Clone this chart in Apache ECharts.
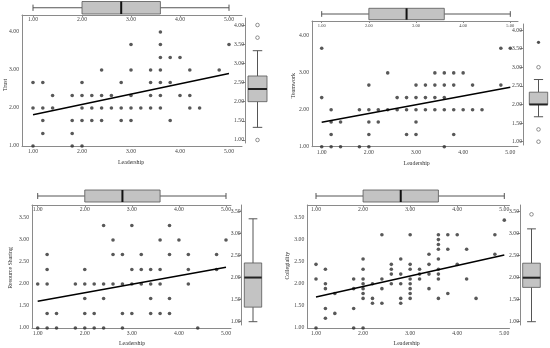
<!DOCTYPE html>
<html><head><meta charset="utf-8">
<script src="https://cdn.jsdelivr.net/npm/echarts@6/dist/echarts.min.js"></script>
<style>html,body{margin:0;padding:0;background:#fff}#c{width:550px;height:348px}</style>
</head><body><div id="c"></div>
<script>
// ---------------- DATA ----------------
const xTicks = [1, 2, 3, 4, 5];
const leadershipBox = [1.00, 2.00, 2.80, 3.60, 5.00]; // min, Q1, median, Q3, max

// Trust
const trustLeadership = [1.0,1.0,1.0, 1.2,1.2,1.2,1.2, 1.4,1.4, 1.8,1.8,1.8,1.8, 2.0,2.0,2.0,2.0,2.0, 2.2,2.2,2.2, 2.4,2.4,2.4,2.4, 2.6,2.6, 2.8,2.8,2.8, 3.0,3.0,3.0,3.0,3.0, 3.2, 3.4,3.4,3.4,3.4, 3.6,3.6,3.6,3.6,3.6,3.6,3.6, 3.8,3.8,3.8, 4.0,4.0, 4.2,4.2,4.2, 4.4, 4.8, 5.0];
const trustValues = [2.67,2.00,1.00, 2.67,2.00,1.67,1.33, 2.33,2.00, 2.33,1.67,1.33,1.00, 2.67,2.33,2.00,1.67,1.00, 2.33,2.00,1.67, 3.00,2.33,2.00,1.67, 2.33,2.00, 2.67,2.00,1.67, 3.67,3.00,2.33,2.00,1.67, 2.00, 3.00,2.67,2.33,2.00, 4.00,3.67,3.33,3.00,2.67,2.33,2.00, 3.33,2.67,1.67, 3.33,2.33, 3.00,2.33,2.00, 2.00, 3.00, 3.67];
const trustFitX = [1.0, 5.0];
const trustFitY = [1.82, 2.91];
const trustBox = [1.33, 2.00, 2.33, 2.67, 3.33];
const trustOutliers = [4.00, 3.67, 1.00];
const trustExtremes = [];
const trustYTicks = [1, 2, 3, 4];
const trustBoxTicks = [1, 1.5, 2, 2.5, 3, 3.5, 4];

// Teamwork
const teamLeadership = [1.0,1.0,1.0, 1.2,1.2,1.2,1.2, 1.4,1.4, 1.8,1.8, 2.0,2.0,2.0,2.0,2.0, 2.2,2.2, 2.4,2.4, 2.6,2.6, 2.8,2.8,2.8, 3.0,3.0,3.0,3.0,3.0, 3.2,3.2,3.2, 3.4,3.4,3.4,3.4, 3.6,3.6,3.6,3.6,3.6, 3.8,3.8,3.8,3.8, 4.0,4.0, 4.2,4.2, 4.4, 4.8,4.8, 5.0];
const teamValues = [3.67,2.33,1.00, 2.00,1.67,1.33,1.00, 1.67,1.00, 2.00,1.00, 2.67,2.00,1.67,1.33,1.00, 2.00,1.67, 3.00,2.00, 2.33,2.00, 2.33,2.00,1.33, 2.67,2.33,2.00,1.67,1.33, 2.67,2.33,2.00, 3.00,2.67,2.33,2.00, 3.00,2.67,2.33,2.00,1.00, 3.00,2.67,2.00,1.33, 3.00,2.00, 2.67,2.00, 2.00, 3.67,2.67, 3.67];
const teamFitX = [1.0, 5.0];
const teamFitY = [1.66, 2.61];
const teamBox = [1.67, 2.00, 2.00, 2.33, 2.67];
const teamOutliers = [3.00, 1.33, 1.00];
const teamExtremes = [3.67];
const teamYTicks = [1, 2, 3, 4];
const teamBoxTicks = [1, 1.5, 2, 2.5, 3, 3.5, 4];

// Resource Sharing
const resLeadership = [1.0,1.0, 1.2,1.2,1.2,1.2,1.2, 1.4,1.4, 1.8,1.8, 2.0,2.0,2.0,2.0,2.0, 2.2,2.2,2.2, 2.4,2.4,2.4,2.4, 2.6,2.6,2.6, 2.8,2.8,2.8,2.8, 3.0,3.0,3.0,3.0, 3.2,3.2,3.2, 3.4,3.4,3.4,3.4, 3.6,3.6,3.6,3.6, 3.8,3.8,3.8,3.8, 4.0, 4.2,4.2,4.2, 4.4, 4.8,4.8, 5.0];
const resValues = [2.00,1.00, 2.67,2.33,2.00,1.33,1.00, 1.33,1.00, 2.00,1.00, 2.33,2.00,1.67,1.33,1.00, 2.00,1.33,1.00, 3.33,2.00,1.67,1.00, 3.00,2.67,2.00, 2.67,2.00,1.33,1.00, 3.33,2.33,2.00,1.33, 2.67,2.33,2.00, 2.33,2.00,1.67,1.33, 3.00,2.33,2.00,1.33, 3.33,2.67,1.67,1.33, 3.00, 2.67,2.33,2.00, 1.00, 2.67,2.33, 3.00];
const resFitX = [1.0, 5.0];
const resFitY = [1.61, 2.38];
const resBox = [1.00, 1.33, 2.00, 2.33, 3.33];
const resOutliers = [];
const resExtremes = [];
const resYTicks = [1, 1.5, 2, 2.5, 3, 3.5];
const resBoxTicks = [1, 1.5, 2, 2.5, 3, 3.5];

// Collegiality
const colLeadership = [1.0,1.0,1.0, 1.2,1.2,1.2,1.2,1.2, 1.4,1.4, 1.8,1.8,1.8,1.8, 2.0,2.0,2.0,2.0,2.0,2.0,2.0,2.0, 2.2,2.2,2.2, 2.4,2.4,2.4,2.4, 2.6,2.6,2.6,2.6, 2.8,2.8,2.8,2.8,2.8, 3.0,3.0,3.0,3.0,3.0,3.0,3.0,3.0, 3.2,3.2,3.2, 3.4,3.4,3.4,3.4, 3.6,3.6,3.6,3.6,3.6,3.6,3.6,3.6,3.6, 3.8,3.8,3.8, 4.0,4.0, 4.2,4.2, 4.4, 4.8,4.8, 5.0];
const colValues = [2.44,2.11,1.00, 2.33,2.00,1.89,1.44,1.22, 1.78,1.33, 2.11,1.89,1.44,1.00, 2.56,2.33,2.11,2.00,1.89,1.78,1.67,1.00, 2.00,1.67,1.56, 3.11,2.11,1.89,1.56, 2.44,2.33,2.22,2.00, 2.56,2.22,2.00,1.67,1.56, 3.11,2.44,2.33,2.11,2.00,1.89,1.78,1.67, 2.33,2.22,2.11, 2.67,2.44,2.22,1.89, 3.11,3.00,2.89,2.78,2.56,2.33,2.22,2.11,1.67, 3.11,2.78,1.78, 3.11,2.44, 2.78,2.11, 1.67, 3.11,2.67, 3.44];
const colFitX = [1.0, 5.0];
const colFitY = [1.70, 2.65];
const colBox = [1.00, 1.78, 2.00, 2.33, 3.11];
const colOutliers = [3.44];
const colExtremes = [];
const colYTicks = [1, 1.5, 2, 2.5, 3, 3.5];
const colBoxTicks = [1, 1.5, 2, 2.5, 3, 3.5];

// ---------------- LAYOUT ----------------
const panels = [
  { name: 'Trust', lx: trustLeadership, ly: trustValues, fx: trustFitX, fy: trustFitY, box: trustBox, out: trustOutliers, ext: trustExtremes, yTicks: trustYTicks, bTicks: trustBoxTicks,
    main: { l: 22, t: 15, r: 242, b: 146, x1: 33, x5: 229, y1: 146, yPer: 38 },
    top: { t: 1, b: 15, boxT: 1.5, boxB: 14, font: 5.7 },
    right: { ax: 245, boxL: 248, boxR: 267, t: 18, b: 143, y1: 140, yPer: 38.33 },
    xt: [131, 162], yt: [5, 85] },
  { name: 'Teamwork', lx: teamLeadership, ly: teamValues, fx: teamFitX, fy: teamFitY, box: teamBox, out: teamOutliers, ext: teamExtremes, yTicks: teamYTicks, bTicks: teamBoxTicks,
    main: { l: 312, t: 21, r: 518, b: 146.7, x1: 321.7, x5: 510.3, y1: 146.7, yPer: 36.9 },
    top: { t: 7, b: 21, boxT: 8.3, boxB: 19.7, font: 4.5 },
    right: { ax: 523, boxL: 529.3, boxR: 547.7, t: 24, b: 145, y1: 141.7, yPer: 37.23 },
    xt: [416.7, 163], yt: [293.3, 85.7] },
  { name: 'Resource Sharing', lx: resLeadership, ly: resValues, fx: resFitX, fy: resFitY, box: resBox, out: resOutliers, ext: resExtremes, yTicks: resYTicks, bTicks: resBoxTicks,
    main: { l: 32, t: 205, r: 231, b: 328, x1: 37.7, x5: 226, y1: 328, yPer: 44 },
    top: { t: 189, b: 205, boxT: 190, boxB: 202, font: 5.7 },
    right: { ax: 241.7, boxL: 244.3, boxR: 261.7, t: 205, b: 325, y1: 321.7, yPer: 44.16 },
    xt: [132, 343], yt: [10, 268] },
  { name: 'Collegiality', lx: colLeadership, ly: colValues, fx: colFitX, fy: colFitY, box: colBox, out: colOutliers, ext: colExtremes, yTicks: colYTicks, bTicks: colBoxTicks,
    main: { l: 307.3, t: 205, r: 509.5, b: 328, x1: 316, x5: 504.3, y1: 328, yPer: 44.2 },
    top: { t: 189, b: 205, boxT: 190, boxB: 202, font: 5.7 },
    right: { ax: 520, boxL: 522.7, boxR: 540.3, t: 205, b: 325, y1: 321.7, yPer: 44 },
    xt: [406.7, 343], yt: [287.3, 265.7] }
];

const FONT = 'Liberation Serif';
const AX = '#8a8a8a';
const LBL = '#444';
const fmt = v => v.toFixed(2);

const grid = [], xAxis = [], yAxis = [], series = [], graphic = [];

panels.forEach((p, i) => {
  const g = i * 3;
  const m = p.main;
  const xp = (m.x5 - m.x1) / 4;
  const xmin = 1 - (m.x1 - m.l) / xp;
  const xmax = 5 + (m.r - m.x5) / xp;
  const ymin = 1 - (m.b - m.y1) / m.yPer;
  const ymax = 1 + (m.y1 - m.t) / m.yPer;

  // main grid
  grid.push({ left: m.l, top: m.t, width: m.r - m.l, height: m.b - m.t });
  xAxis.push({ gridIndex: g, type: 'value', min: xmin, max: xmax,
    axisLine: { show: true, onZero: false, lineStyle: { color: AX, width: 1 } },
    axisTick: { show: false }, splitLine: { show: false },
    axisLabel: { customValues: xTicks, formatter: fmt, fontSize: 5.7, fontFamily: FONT, color: LBL, margin: 3 } });
  yAxis.push({ gridIndex: g, type: 'value', min: ymin, max: ymax,
    axisLine: { show: true, onZero: false, lineStyle: { color: AX, width: 1 } },
    axisTick: { show: false }, splitLine: { show: false },
    axisLabel: { customValues: p.yTicks, formatter: fmt, fontSize: 5.7, fontFamily: FONT, color: LBL, margin: 3 } });

  // top box grid
  const t = p.top;
  grid.push({ left: m.l, top: t.t, width: m.r - m.l, height: t.b - t.t });
  xAxis.push({ gridIndex: g + 1, type: 'value', min: xmin, max: xmax, position: 'bottom',
    axisLine: { show: true, onZero: false, lineStyle: { color: AX, width: 1 } },
    axisTick: { show: true, customValues: xTicks, length: 2, lineStyle: { color: AX } },
    splitLine: { show: false },
    axisLabel: { customValues: xTicks, formatter: fmt, fontSize: t.font, fontFamily: FONT, color: LBL, margin: 2 } });
  yAxis.push({ gridIndex: g + 1, type: 'value', min: 0, max: 1, show: false });

  // right box grid
  const r = p.right;
  const rw = r.boxR + 2 - r.ax;
  const rymin = 1 - (r.b - r.y1) / r.yPer;
  const rymax = 1 + (r.y1 - r.t) / r.yPer;
  grid.push({ left: r.ax, top: r.t, width: rw, height: r.b - r.t });
  xAxis.push({ gridIndex: g + 2, type: 'value', min: 0, max: 1, show: false });
  yAxis.push({ gridIndex: g + 2, type: 'value', min: rymin, max: rymax, position: 'left',
    axisLine: { show: true, onZero: false, lineStyle: { color: AX, width: 1 } },
    axisTick: { show: true, customValues: p.bTicks, length: 3, lineStyle: { color: AX } },
    splitLine: { show: false },
    axisLabel: { customValues: p.bTicks, formatter: fmt, fontSize: 5.7, fontFamily: FONT, color: LBL, margin: 1 } });

  // scatter points
  series.push({ type: 'scatter', xAxisIndex: g, yAxisIndex: g, clip: false, silent: true, z: 3,
    symbol: 'circle', symbolSize: 3.6, itemStyle: { color: '#2e2e2e' },
    data: p.lx.map((x, k) => [x, p.ly[k]]) });
  // regression line
  series.push({ type: 'line', xAxisIndex: g, yAxisIndex: g, symbol: 'none', silent: true, z: 4,
    lineStyle: { color: '#000', width: 1.5 }, data: p.fx.map((x, k) => [x, p.fy[k]]) });

  // top (horizontal) box plot of Leadership
  series.push({ type: 'custom', xAxisIndex: g + 1, yAxisIndex: g + 1, silent: true, z: 3,
    data: [leadershipBox],
    renderItem: (params, api) => {
      const c = k => api.coord([api.value(k), 0])[0];
      const [mn, q1, md, q3, mx] = [c(0), c(1), c(2), c(3), c(4)];
      const yT = t.boxT, yB = t.boxB, yC = (yT + yB) / 2, ch = (yB - yT) / 4;
      const ls = { stroke: '#555', lineWidth: 1 };
      return { type: 'group', children: [
        { type: 'line', shape: { x1: mn, y1: yC, x2: q1, y2: yC }, style: ls },
        { type: 'line', shape: { x1: q3, y1: yC, x2: mx, y2: yC }, style: ls },
        { type: 'line', shape: { x1: mn, y1: yC - ch, x2: mn, y2: yC + ch }, style: ls },
        { type: 'line', shape: { x1: mx, y1: yC - ch, x2: mx, y2: yC + ch }, style: ls },
        { type: 'rect', shape: { x: q1, y: yT, width: q3 - q1, height: yB - yT }, style: { fill: '#c3c3c3', stroke: '#555', lineWidth: 0.8 } },
        { type: 'line', shape: { x1: md, y1: yT, x2: md, y2: yB }, style: { stroke: '#111', lineWidth: 2 } }
      ] };
    } });

  // right (vertical) box plot
  const bl = r.boxL - r.ax, br = r.boxR - r.ax;
  series.push({ type: 'custom', xAxisIndex: g + 2, yAxisIndex: g + 2, silent: true, z: 3,
    data: [p.box],
    renderItem: (params, api) => {
      const c = k => api.coord([0, api.value(k)])[1];
      const [mn, q1, md, q3, mx] = [c(0), c(1), c(2), c(3), c(4)];
      const xL = r.ax + bl, xR = r.ax + br, xC = (xL + xR) / 2, cw = (xR - xL) / 4;
      const ls = { stroke: '#555', lineWidth: 1 };
      return { type: 'group', children: [
        { type: 'line', shape: { x1: xC, y1: mn, x2: xC, y2: q1 }, style: ls },
        { type: 'line', shape: { x1: xC, y1: q3, x2: xC, y2: mx }, style: ls },
        { type: 'line', shape: { x1: xC - cw, y1: mn, x2: xC + cw, y2: mn }, style: ls },
        { type: 'line', shape: { x1: xC - cw, y1: mx, x2: xC + cw, y2: mx }, style: ls },
        { type: 'rect', shape: { x: xL, y: q3, width: xR - xL, height: q1 - q3 }, style: { fill: '#c3c3c3', stroke: '#555', lineWidth: 0.8 } },
        { type: 'line', shape: { x1: xL, y1: md, x2: xR, y2: md }, style: { stroke: '#222', lineWidth: 2 } }
      ] };
    } });

  const cx = (bl + br) / 2 / rw;
  if (p.out.length) series.push({ type: 'scatter', xAxisIndex: g + 2, yAxisIndex: g + 2, clip: false, silent: true, z: 4,
    symbol: 'circle', symbolSize: 3.6, itemStyle: { color: '#fff', borderColor: '#555', borderWidth: 0.8 },
    data: p.out.map(v => [cx, v]) });
  if (p.ext.length) series.push({ type: 'scatter', xAxisIndex: g + 2, yAxisIndex: g + 2, clip: false, silent: true, z: 4,
    symbol: 'circle', symbolSize: 3.2, itemStyle: { color: '#222' },
    data: p.ext.map(v => [cx, v]) });

  // axis titles
  graphic.push({ type: 'text', x: p.xt[0], y: p.xt[1], silent: true,
    style: { text: 'Leadership', fontSize: 5.9, fontFamily: FONT, fill: '#333', align: 'center', verticalAlign: 'middle' } });
  graphic.push({ type: 'text', x: p.yt[0], y: p.yt[1], rotation: Math.PI / 2, silent: true,
    style: { text: p.name, fontSize: 5.9, fontFamily: FONT, fill: '#333', align: 'center', verticalAlign: 'middle' } });
});

const chart = echarts.init(document.getElementById('c'), null, { renderer: 'canvas' });
chart.setOption({ animation: false, backgroundColor: '#fff', grid, xAxis, yAxis, series, graphic });
</script>
</body></html>
